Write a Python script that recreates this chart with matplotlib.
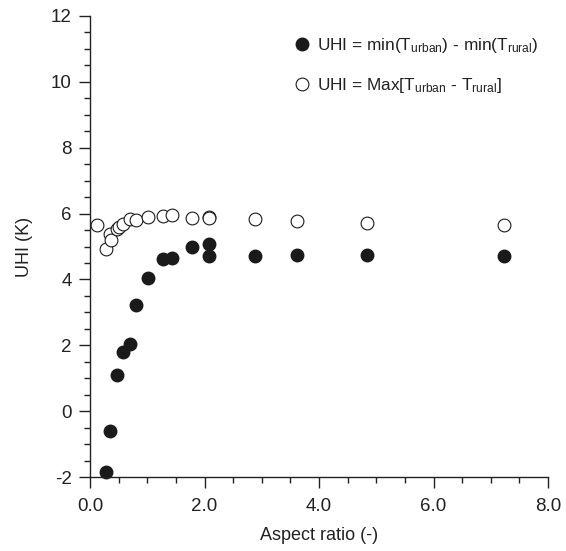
import matplotlib.pyplot as plt
from matplotlib.ticker import MultipleLocator, FormatStrFormatter

plt.rcParams["font.family"] = ["Liberation Sans", "DejaVu Sans"]
plt.rcParams["mathtext.fontset"] = "custom"
plt.rcParams["mathtext.rm"] = "Liberation Sans"
plt.rcParams["mathtext.it"] = "Liberation Sans:italic"
plt.rcParams["axes.unicode_minus"] = False

# UHI = min(T_urban) - min(T_rural)
ar_min = [0.28, 0.35, 0.48, 0.57, 0.70, 0.80, 1.02, 1.28, 1.44, 1.78, 2.07, 2.07, 2.89, 3.61, 4.83, 7.24]
uhi_min = [-1.85, -0.59, 1.09, 1.79, 2.05, 3.23, 4.05, 4.63, 4.66, 4.97, 5.07, 4.71, 4.70, 4.73, 4.75, 4.70]

# UHI = Max[T_urban - T_rural]
ar_max = [0.13, 0.28, 0.35, 0.37, 0.48, 0.51, 0.57, 0.70, 0.80, 1.02, 1.28, 1.44, 1.78, 2.07, 2.07, 2.89, 3.61, 4.83, 7.24]
uhi_max = [5.64, 4.91, 5.39, 5.21, 5.54, 5.60, 5.67, 5.85, 5.80, 5.90, 5.92, 5.95, 5.88, 5.90, 5.87, 5.82, 5.76, 5.71, 5.64]

fig = plt.figure(figsize=(5.66, 5.51), dpi=100)
ax = fig.add_axes([90 / 566, 74 / 551, 458 / 566, 461 / 551])

ax.plot(ar_min, uhi_min, "o", color="#1a1a1a", markersize=9, linestyle="none",
        label=r"UHI = min(T$_{\mathrm{urban}}$) - min(T$_{\mathrm{rural}}$)", clip_on=False)
ax.plot(ar_max, uhi_max, "o", markerfacecolor="white", markeredgecolor="#1a1a1a",
        markeredgewidth=0.8, markersize=9.2, linestyle="none",
        label=r"UHI = Max[T$_{\mathrm{urban}}$ - T$_{\mathrm{rural}}$]", clip_on=False)

ax.set_xlim(0, 8)
ax.set_ylim(-2, 12)
ax.xaxis.set_major_locator(MultipleLocator(2))
ax.xaxis.set_minor_locator(MultipleLocator(0.5))
ax.xaxis.set_major_formatter(FormatStrFormatter("%.1f"))
ax.yaxis.set_major_locator(MultipleLocator(2))
ax.yaxis.set_minor_locator(MultipleLocator(0.5))

for side in ["top", "right"]:
    ax.spines[side].set_visible(False)
for side in ["left", "bottom"]:
    ax.spines[side].set_linewidth(1.0)
    ax.spines[side].set_color("#222222")

ax.tick_params(which="major", direction="out", length=8, width=1.0, color="#222222")
ax.tick_params(which="minor", direction="out", length=4, width=1.0, color="#222222")
ax.tick_params(axis="y", which="major", labelsize=13.5, pad=5, labelcolor="#222222")
ax.tick_params(axis="x", which="major", labelsize=13.5, pad=7, labelcolor="#222222")

ax.set_xlabel("Aspect ratio (-)", fontsize=13, color="#222222", labelpad=9)
ax.set_ylabel("UHI (K)", fontsize=13, color="#222222", labelpad=13)

leg = ax.legend(loc="upper left", bbox_to_anchor=(295 / 566, 1 - 36 / 551),
                bbox_transform=fig.transFigure, frameon=False, fontsize=12.4,
                handlelength=0.8, handletextpad=0.5, labelspacing=1.2,
                borderaxespad=0, borderpad=0)
for t in leg.get_texts():
    t.set_color("#222222")

fig.savefig("out.png", dpi=100)
